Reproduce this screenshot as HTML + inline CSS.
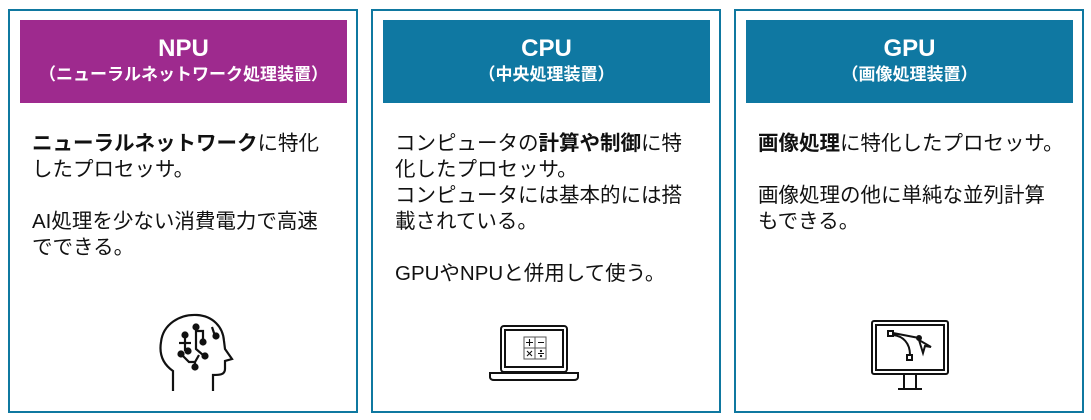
<!DOCTYPE html>
<html><head><meta charset="utf-8"><style>
body{margin:0;width:1091px;height:420px;background:#fff;position:relative;overflow:hidden;font-family:"Liberation Sans","Noto Sans CJK JP",sans-serif;}
.box{position:absolute;top:9px;width:346px;height:400px;border:2px solid #0f78a0;box-sizing:content-box;}
.hd{position:absolute;left:10px;top:9px;width:327px;height:83px;color:#fff;text-align:center;font-weight:bold;}
.hd .t{font-size:24px;margin-top:15px;line-height:28px;}
.hd .s{font-size:17px;line-height:22px;margin-top:1px;}
.tx{position:absolute;left:22px;top:120px;font-size:20.5px;line-height:26px;color:#111;width:330px;white-space:nowrap;}
.tx b{font-weight:bold;}
svg{position:absolute;}
</style></head><body>
<div class="box" style="left:8px">
 <div class="hd" style="background:#9e2a8e"><div class="t">NPU</div><div class="s">（ニューラルネットワーク処理装置）</div></div>
 <div class="tx"><b>ニューラルネットワーク</b>に特化<br>したプロセッサ。<br><br>AI処理を少ない消費電力で高速<br>でできる。</div>
 <svg style="left:145px;top:298px" width="80" height="85" viewBox="0 0 80 85" fill="none" stroke="#111" stroke-width="2.2">
  <path d="M18 82 V62 C8 55 4 45 6 33 C8 15 25 5 42 6 C58 7 68 18 69 32 L70 40 L77 50 L70 52 V60 C70 66 64 66 58 66 V82"/>
  <circle cx="30" cy="26" r="2.5" fill="#111"/><path d="M30 28 V42"/><circle cx="33" cy="42" r="2.5" fill="#111"/><path d="M24 34 H36"/>
  <circle cx="41" cy="18" r="2.5" fill="#111"/><path d="M41 20 V40 L48 46"/><circle cx="50" cy="47" r="2.5" fill="#111"/><path d="M41 22 H48 V32"/><circle cx="48" cy="33" r="2.5" fill="#111"/>
  <path d="M57 18 L59 24 L62 26"/><circle cx="61" cy="27" r="2.5" fill="#111"/>
  <circle cx="26" cy="45" r="2.5" fill="#111"/><path d="M26 45 L34 53 H40 L44 46 M40 53 V57"/><circle cx="40" cy="58" r="2.5" fill="#111"/>
 </svg>
</div>
<div class="box" style="left:371px">
 <div class="hd" style="background:#0f78a2"><div class="t">CPU</div><div class="s">（中央処理装置）</div></div>
 <div class="tx">コンピュータの<b>計算や制御</b>に特<br>化したプロセッサ。<br>コンピュータには基本的には搭<br>載されている。<br><br>GPUやNPUと併用して使う。</div>
 <svg style="left:115px;top:312px" width="96" height="60" viewBox="0 0 96 60" fill="none" stroke="#111" stroke-width="2">
  <rect x="13" y="3" width="66" height="46" rx="3"/><rect x="17" y="7" width="58" height="37"/>
  <path d="M2 50 H90 V54 C90 56 88 57 86 57 H6 C4 57 2 56 2 54 Z"/>
  <g stroke="#555" stroke-width="1"><rect x="36" y="14" width="22" height="22"/><path d="M47 14 V36 M36 25 H58"/></g>
  <g stroke="#111" stroke-width="1.1"><path d="M38 19.5 H45 M41.5 16 V23 M50 19.5 H56 M39 28 L44 33 M44 28 L39 33 M50 30.5 H56"/><circle cx="53" cy="28" r=".6"/><circle cx="53" cy="33" r=".6"/></g>
 </svg>
</div>
<div class="box" style="left:734px">
 <div class="hd" style="background:#0f78a2"><div class="t">GPU</div><div class="s">（画像処理装置）</div></div>
 <div class="tx"><b>画像処理</b>に特化したプロセッサ。<br><br>画像処理の他に単純な並列計算<br>もできる。</div>
 <svg style="left:134px;top:307px" width="80" height="80" viewBox="0 0 80 80" fill="none" stroke="#111" stroke-width="2">
  <rect x="2" y="3" width="76" height="53" rx="2"/><rect x="6" y="7" width="68" height="45"/>
  <path d="M34 57 V70 M46 57 V70 M28 71 H52"/>
  <rect x="18" y="13" width="5" height="5"/><rect x="37" y="37" width="5" height="5"/>
  <path d="M23 15 L49 20 M40 37 C40 25 33 18 23 17"/><circle cx="49" cy="20" r="2" fill="#111"/>
  <path d="M49 22 L53 35 L55 28 L61 29 Z"/>
 </svg>
</div>
</body></html>
